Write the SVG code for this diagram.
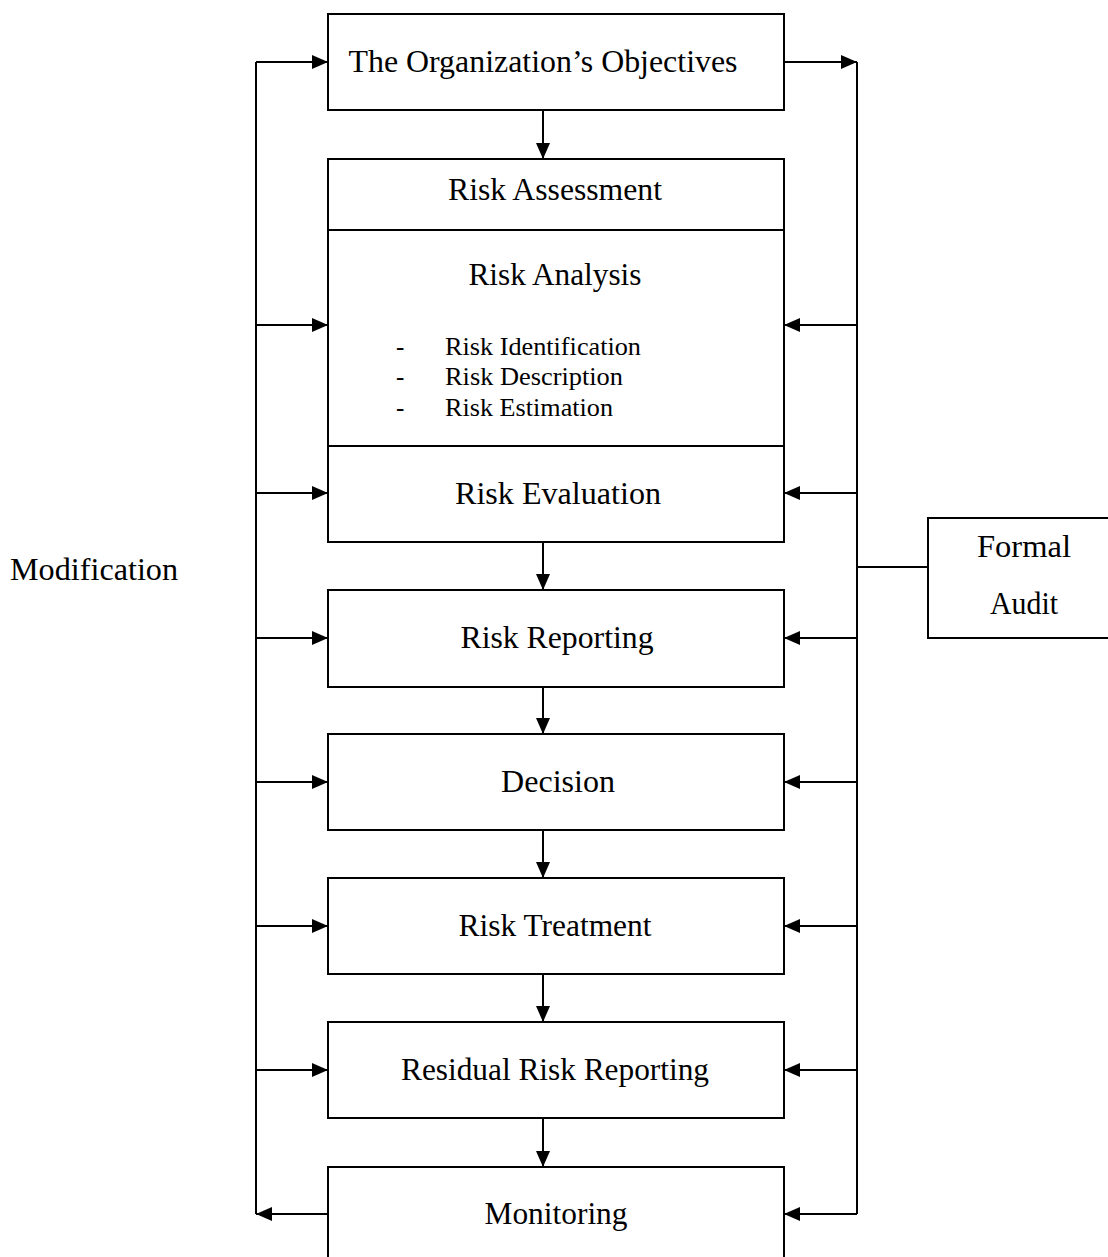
<svg xmlns="http://www.w3.org/2000/svg" width="1108" height="1257" viewBox="0 0 1108 1257" font-family="Liberation Serif, Times New Roman, serif">
<defs>
<marker id="ah" markerUnits="userSpaceOnUse" markerWidth="16" markerHeight="14" refX="16" refY="7" orient="auto">
<path d="M0,0 L16,7 L0,14 Z" fill="#000"/>
</marker>
<style>
.box{fill:#fff;stroke:#000;stroke-width:2}
.ln{fill:none;stroke:#000;stroke-width:2}
.ar{fill:none;stroke:#000;stroke-width:2;marker-end:url(#ah)}
.t{font-size:31px;text-anchor:middle;fill:#000}
.s{font-size:25px;fill:#000}
</style>
</defs>
<rect width="1108" height="1257" fill="#fff"/>
<g id="connectors">
<path class="ln" d="M256,62 V1214"/>
<path class="ln" d="M857,62 V1214"/>
<path class="ar" d="M256,62 H328"/>
<path class="ar" d="M784,62 H857"/>
<path class="ar" d="M543,110 V159"/>
<path class="ar" d="M543,542 V590"/>
<path class="ar" d="M543,687 V734"/>
<path class="ar" d="M543,830 V878"/>
<path class="ar" d="M543,974 V1022"/>
<path class="ar" d="M543,1118 V1167"/>
<path class="ar" d="M256,325 H328"/>
<path class="ar" d="M256,493 H328"/>
<path class="ar" d="M256,638 H328"/>
<path class="ar" d="M256,782 H328"/>
<path class="ar" d="M256,926 H328"/>
<path class="ar" d="M256,1070 H328"/>
<path class="ar" d="M328,1214 H256"/>
<path class="ar" d="M857,325 H784"/>
<path class="ar" d="M857,493 H784"/>
<path class="ar" d="M857,638 H784"/>
<path class="ar" d="M857,782 H784"/>
<path class="ar" d="M857,926 H784"/>
<path class="ar" d="M857,1070 H784"/>
<path class="ar" d="M857,1214 H784"/>
<path class="ln" d="M857,567 H928"/>
</g>
<g id="objectives">
<rect class="box" x="328" y="14" width="456" height="96"/>
<text class="t" x="543" y="72" textLength="389" lengthAdjust="spacingAndGlyphs">The Organization’s Objectives</text>
</g>
<g id="risk-assessment">
<rect class="box" x="328" y="159" width="456" height="383"/>
<path class="ln" d="M328,230 H784 M328,446 H784"/>
<text class="t" x="555" y="200" textLength="214" lengthAdjust="spacingAndGlyphs">Risk Assessment</text>
<text class="t" x="555" y="285" textLength="173" lengthAdjust="spacingAndGlyphs">Risk Analysis</text>
<text class="s" x="396" y="355">-</text>
<text class="s" x="445" y="355" textLength="196" lengthAdjust="spacingAndGlyphs">Risk Identification</text>
<text class="s" x="396" y="385">-</text>
<text class="s" x="445" y="385" textLength="178" lengthAdjust="spacingAndGlyphs">Risk Description</text>
<text class="s" x="396" y="416">-</text>
<text class="s" x="445" y="416" textLength="168" lengthAdjust="spacingAndGlyphs">Risk Estimation</text>
<text class="t" x="558" y="504" textLength="206" lengthAdjust="spacingAndGlyphs">Risk Evaluation</text>
</g>
<g id="risk-reporting">
<rect class="box" x="328" y="590" width="456" height="97"/>
<text class="t" x="557" y="648" textLength="193" lengthAdjust="spacingAndGlyphs">Risk Reporting</text>
</g>
<g id="decision">
<rect class="box" x="328" y="734" width="456" height="96"/>
<text class="t" x="558" y="792" textLength="114" lengthAdjust="spacingAndGlyphs">Decision</text>
</g>
<g id="risk-treatment">
<rect class="box" x="328" y="878" width="456" height="96"/>
<text class="t" x="555" y="936" textLength="193" lengthAdjust="spacingAndGlyphs">Risk Treatment</text>
</g>
<g id="residual">
<rect class="box" x="328" y="1022" width="456" height="96"/>
<text class="t" x="555" y="1080" textLength="308" lengthAdjust="spacingAndGlyphs">Residual Risk Reporting</text>
</g>
<g id="monitoring">
<rect class="box" x="328" y="1167" width="456" height="120"/>
<text class="t" x="556" y="1224" textLength="143" lengthAdjust="spacingAndGlyphs">Monitoring</text>
</g>
<g id="formal-audit">
<rect class="box" x="928" y="518" width="200" height="120"/>
<text class="t" x="1024" y="557" textLength="94" lengthAdjust="spacingAndGlyphs">Formal</text>
<text class="t" x="1024" y="614" textLength="68" lengthAdjust="spacingAndGlyphs">Audit</text>
</g>
<g id="modification">
<text class="t" x="94" y="580" textLength="168" lengthAdjust="spacingAndGlyphs">Modification</text>
</g>
</svg>
